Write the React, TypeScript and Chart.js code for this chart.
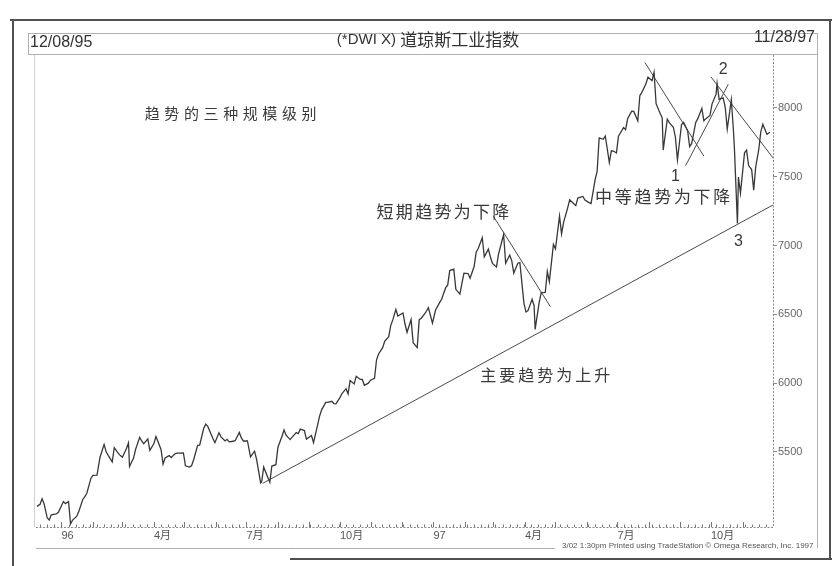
import React, { useEffect, useRef } from "react";
import { Chart, registerables } from "chart.js";

Chart.register(...registerables);

// ---------- data ----------
const axisStart = "95-12-07";
const axisEnd = "97-12-01";

const dates: string[] = [
  "95-12-08","95-12-11","95-12-13","95-12-15","95-12-18","95-12-20","95-12-22","95-12-27","95-12-29",
  "96-01-03","96-01-05","96-01-08","96-01-10","96-01-12","96-01-16","96-01-18","96-01-22","96-01-24","96-01-26","96-01-30",
  "96-02-01","96-02-05","96-02-08","96-02-12","96-02-14","96-02-16","96-02-20","96-02-22","96-02-26","96-02-28",
  "96-03-01","96-03-05","96-03-07","96-03-08","96-03-12","96-03-14","96-03-18","96-03-20","96-03-22","96-03-26","96-03-28",
  "96-04-01","96-04-03","96-04-08","96-04-10","96-04-12","96-04-16","96-04-18","96-04-22","96-04-24","96-04-26","96-04-30",
  "96-05-02","96-05-06","96-05-08","96-05-10","96-05-14","96-05-16","96-05-20","96-05-22","96-05-24","96-05-29","96-05-31",
  "96-06-04","96-06-06","96-06-10","96-06-12","96-06-14","96-06-18","96-06-20","96-06-24","96-06-26","96-06-28",
  "96-07-02","96-07-05","96-07-09","96-07-11","96-07-15","96-07-16","96-07-18","96-07-22","96-07-24","96-07-26","96-07-30",
  "96-08-01","96-08-05","96-08-07","96-08-09","96-08-13","96-08-15","96-08-19","96-08-21","96-08-23","96-08-27","96-08-29",
  "96-09-03","96-09-05","96-09-09","96-09-11","96-09-13","96-09-17","96-09-19","96-09-23","96-09-25","96-09-27",
  "96-10-01","96-10-03","96-10-07","96-10-09","96-10-11","96-10-15","96-10-17","96-10-21","96-10-23","96-10-25","96-10-29","96-10-31",
  "96-11-04","96-11-06","96-11-08","96-11-12","96-11-14","96-11-18","96-11-20","96-11-22","96-11-25","96-11-27",
  "96-12-02","96-12-04","96-12-06","96-12-10","96-12-12","96-12-16","96-12-18","96-12-20","96-12-24","96-12-27","96-12-31",
  "97-01-03","97-01-07","97-01-09","97-01-13","97-01-15","97-01-17","97-01-21","97-01-23","97-01-27","97-01-29","97-01-31",
  "97-02-04","97-02-06","97-02-10","97-02-12","97-02-14","97-02-18","97-02-20","97-02-24","97-02-26","97-02-28",
  "97-03-04","97-03-06","97-03-11","97-03-13","97-03-17","97-03-19","97-03-21","97-03-25","97-03-27","97-03-31",
  "97-04-02","97-04-04","97-04-08","97-04-10","97-04-11","97-04-15","97-04-17","97-04-21","97-04-23","97-04-25","97-04-29",
  "97-05-01","97-05-05","97-05-07","97-05-09","97-05-13","97-05-15","97-05-19","97-05-21","97-05-23","97-05-28","97-05-30",
  "97-06-03","97-06-05","97-06-09","97-06-11","97-06-13","97-06-17","97-06-19","97-06-23","97-06-25","97-06-27","97-06-30",
  "97-07-02","97-07-07","97-07-09","97-07-11","97-07-15","97-07-17","97-07-21","97-07-23","97-07-25","97-07-29","97-07-31",
  "97-08-04","97-08-06","97-08-08","97-08-12","97-08-14","97-08-15","97-08-19","97-08-21","97-08-25","97-08-27","97-08-29",
  "97-09-02","97-09-04","97-09-08","97-09-10","97-09-12","97-09-16","97-09-18","97-09-22","97-09-24","97-09-26","97-09-30",
  "97-10-02","97-10-06","97-10-07","97-10-09","97-10-13","97-10-15","97-10-17","97-10-21","97-10-23","97-10-24","97-10-27","97-10-28","97-10-30",
  "97-11-03","97-11-05","97-11-07","97-11-10","97-11-12","97-11-14","97-11-17","97-11-19","97-11-21","97-11-25","97-11-28"
];

// closes (right-hand price axis)
const closes: number[] = [
  5105,5120,5160,5122,5022,5005,5043,5050,5062,
  5140,5125,5140,4978,5005,5032,5065,5155,5175,5200,5308,
  5330,5332,5462,5555,5502,5476,5428,5532,5490,5474,
  5462,5525,5566,5395,5456,5520,5606,5580,5560,5595,5512,
  5562,5612,5518,5412,5456,5474,5460,5488,5492,5492,5494,
  5400,5390,5400,5442,5548,5550,5672,5702,5686,5598,5568,
  5640,5610,5580,5592,5574,5578,5584,5642,5602,5580,
  5580,5464,5506,5446,5275,5284,5390,5316,5280,5398,5408,
  5535,5615,5660,5622,5590,5608,5642,5634,5666,5656,5594,
  5620,5568,5695,5762,5806,5860,5860,5868,5852,5850,
  5895,5925,5960,5922,6020,5995,6050,6027,6027,5985,6000,6022,
  6035,6170,6212,6258,6305,6338,6420,6460,6535,6488,
  6510,6430,6370,6462,6294,6258,6462,6472,6510,6548,6436,
  6530,6585,6610,6694,6712,6818,6828,6682,6647,6726,6800,
  6797,6763,6848,6951,6978,7057,6918,6974,6917,6870,
  6845,6938,7080,6872,6930,6891,6800,6872,6876,6580,
  6517,6527,6609,6563,6391,6587,6658,6660,6812,6738,7008,
  6976,7214,7085,7169,7274,7333,7304,7290,7345,7357,7331,
  7312,7305,7478,7540,7782,7772,7796,7604,7689,7687,7673,
  7795,7858,7842,7921,7976,7975,7906,8089,8113,8175,8223,
  8198,8259,8031,7960,7928,7694,7918,7893,7860,7787,7622,
  7879,7895,7835,7719,7742,7895,7922,7996,7906,7922,7945,
  8028,8100,8178,8062,8073,8005,7847,8060,7847,7715,7161,7498,7381,
  7674,7693,7581,7552,7402,7572,7698,7826,7881,7809,7823
];

const yTickValues = [5500, 6000, 6500, 7000, 7500, 8000];
const yMin = 4955;
const yMax = 8421;

const quarterTickDates = ["96-01-01","96-04-01","96-07-01","96-10-01","97-01-01","97-04-01","97-07-01","97-10-01"];
const quarterTickLabels = ["96","4月","7月","10月","97","4月","7月","10月"];

// trend lines (date, value)
const trendMajorDates = ["96-07-17","97-12-01"];
const trendMajorValues = [5272, 7295];
const trendShortDates = ["97-03-01","97-04-26"];
const trendShortValues = [7212, 6556];
const trendMid1Dates = ["97-07-28","97-09-24"];
const trendMid1Values = [8330, 7650];
const trendUpDates = ["97-09-06","97-10-18"];
const trendUpValues = [7580, 8172];
const trendMid2Dates = ["97-10-01","97-12-01"];
const trendMid2Values = [8225, 7637];

// annotations
const noteTexts = ["趋势的三种规模级别","短期趋势为下降","中等趋势为下降","主要趋势为上升","1","2","3"];
const noteDates = ["96-03-23","96-11-06","97-06-09","97-02-16","97-08-27","97-10-13","97-10-28"];
const noteValues = [7964, 7244, 7353, 6060, 7499, 8276, 7026];

const titleLeft = "12/08/95";
const titleRight = "11/28/97";
const titleCode = "(*DWI X) ";
const titleName = "道琼斯工业指数";
const footer = "3/02 1:30pm Printed using TradeStation © Omega Research, Inc. 1997";

// ---------- helpers ----------
const dayOf = (s: string) =>
  (Date.UTC(1900 + Number(s.slice(0, 2)), Number(s.slice(3, 5)) - 1, Number(s.slice(6, 8))) -
    Date.UTC(1995, 11, 8)) / 86400000;

const W = 834;
const H = 566;
const PLOT_L = 36;
const PLOT_T = 50;
const PLOT_R = 773;
const PLOT_B = 527;

const SANS = "'Liberation Sans', Arial, 'Noto Sans CJK SC', sans-serif";
const CJK = "'Noto Sans CJK SC', sans-serif";

// note styles (index aligned with notes)
const noteSize = [15, 17, 17, 16, 16, 16, 16];
const noteAdvance = [19.6, 19.3, 19.7, 19.0, 0, 0, 0];

function line(ctx: CanvasRenderingContext2D, x1: number, y1: number, x2: number, y2: number) {
  ctx.beginPath();
  ctx.moveTo(x1, y1);
  ctx.lineTo(x2, y2);
  ctx.stroke();
}

const framePlugin = {
  id: "frame",
  beforeDraw(chart: any) {
    const ctx: CanvasRenderingContext2D = chart.ctx;
    ctx.save();
    ctx.fillStyle = "#ffffff";
    ctx.fillRect(0, 0, W, H);
    // outer frame
    ctx.strokeStyle = "#505050";
    ctx.lineWidth = 2;
    line(ctx, 10, 20, 832, 20);
    line(ctx, 13, 20, 13, 566);
    line(ctx, 830, 20, 830, 560);
    line(ctx, 290, 559, 832, 559);
    // inner panel
    ctx.strokeStyle = "#b0b0b0";
    ctx.lineWidth = 1;
    line(ctx, 28, 33.5, 817, 33.5);
    line(ctx, 28, 54.5, 817, 54.5);
    line(ctx, 28.5, 33, 28.5, 55);
    line(ctx, 817.5, 33, 817.5, 548);
    line(ctx, 36, 548.5, 555, 548.5);
    ctx.strokeStyle = "#d0d0d0";
    line(ctx, 34.5, 55, 34.5, PLOT_B);
    // axes (dotted)
    ctx.strokeStyle = "#8a8a8a";
    ctx.setLineDash([2, 1.5]);
    line(ctx, PLOT_R + 0.5, 55, PLOT_R + 0.5, PLOT_B);
    line(ctx, PLOT_L, PLOT_B + 0.5, PLOT_R, PLOT_B + 0.5);
    ctx.setLineDash([]);
    // x tick marks: weekly minor, monthly major
    const xs = chart.scales.x;
    ctx.strokeStyle = "#777";
    for (let d = dayOf("95-12-11"); d <= dayOf("97-11-28"); d += 7) {
      const px = Math.round(xs.getPixelForValue(d)) + 0.5;
      line(ctx, px, PLOT_B, px, PLOT_B - 2.5);
    }
    for (let y = 1996; y <= 1997; y++) {
      for (let m = 1; m <= 12; m++) {
        if (y === 1997 && m === 12) continue;
        const s = `${String(y).slice(2)}-${String(m).padStart(2, "0")}-01`;
        const px = Math.round(xs.getPixelForValue(dayOf(s))) + 0.5;
        line(ctx, px, PLOT_B, px, PLOT_B - 5);
      }
    }
    ctx.restore();
  },
  afterDraw(chart: any) {
    const ctx: CanvasRenderingContext2D = chart.ctx;
    const xs = chart.scales.x;
    const ys = chart.scales.y;
    ctx.save();
    // header texts
    ctx.fillStyle = "#333";
    ctx.textBaseline = "middle";
    ctx.font = `16px ${SANS}`;
    ctx.textAlign = "left";
    ctx.fillText(titleLeft, 30, 43);
    ctx.textAlign = "right";
    ctx.fillText(titleRight, 815, 38);
    ctx.textAlign = "left";
    ctx.font = `15px ${SANS}`;
    const w1 = ctx.measureText(titleCode).width;
    ctx.font = `17px ${CJK}`;
    const w2 = ctx.measureText(titleName).width;
    const tx = 428 - (w1 + w2) / 2;
    ctx.font = `15px ${SANS}`;
    ctx.fillText(titleCode, tx, 40);
    ctx.font = `17px ${CJK}`;
    ctx.fillText(titleName, tx + w1, 40);
    // footer
    ctx.font = `8px ${SANS}`;
    ctx.fillStyle = "#555";
    ctx.fillText(footer, 562, 546, 262);
    // annotations
    ctx.fillStyle = "#3a3a3a";
    for (let i = 0; i < noteTexts.length; i++) {
      const px = xs.getPixelForValue(dayOf(noteDates[i]));
      const py = ys.getPixelForValue(noteValues[i]);
      const t = noteTexts[i];
      if (noteAdvance[i] > 0) {
        ctx.font = `${noteSize[i]}px ${CJK}`;
        ctx.textAlign = "left";
        const chars = Array.from(t);
        chars.forEach((ch, k) => ctx.fillText(ch, px + k * noteAdvance[i], py));
      } else {
        ctx.font = `${noteSize[i]}px ${SANS}`;
        ctx.textAlign = "center";
        ctx.fillText(t, px, py);
      }
    }
    ctx.restore();
  },
};

function trendSet(ds: string[], vs: number[]) {
  return {
    data: ds.map((d, i) => ({ x: dayOf(d), y: vs[i] })),
    borderColor: "#4a4a4a",
    borderWidth: 1,
    pointRadius: 0,
    tension: 0,
    fill: false,
  };
}

export default function App() {
  const ref = useRef<HTMLCanvasElement | null>(null);
  useEffect(() => {
    if (!ref.current) return;
    const chart = new Chart(ref.current, {
      type: "line",
      data: {
        datasets: [
          {
            data: dates.map((d, i) => ({ x: dayOf(d), y: closes[i] })),
            borderColor: "#383838",
            borderWidth: 1.3,
            pointRadius: 0,
            tension: 0,
            fill: false,
          },
          trendSet(trendMajorDates, trendMajorValues),
          trendSet(trendShortDates, trendShortValues),
          trendSet(trendMid1Dates, trendMid1Values),
          trendSet(trendUpDates, trendUpValues),
          trendSet(trendMid2Dates, trendMid2Values),
        ] as any,
      },
      options: {
        animation: false,
        responsive: false,
        maintainAspectRatio: false,
        events: [],
        layout: { padding: { left: PLOT_L, top: PLOT_T, right: 0, bottom: 0 } },
        plugins: { legend: { display: false }, tooltip: { enabled: false }, title: { display: false } },
        scales: {
          x: {
            type: "linear",
            min: dayOf(axisStart),
            max: dayOf(axisEnd),
            afterBuildTicks: (s: any) => {
              s.ticks = quarterTickDates.map((d) => ({ value: dayOf(d) }));
            },
            afterFit: (s: any) => {
              s.height = H - PLOT_B;
            },
            ticks: {
              autoSkip: false,
              maxRotation: 0,
              minRotation: 0,
              align: "start",
              padding: 2,
              color: "#555",
              font: { family: SANS, size: 11 },
              callback: (_v: any, i: number) => quarterTickLabels[i],
            },
            grid: { display: false, drawTicks: false },
            border: { display: false },
          },
          y: {
            type: "linear",
            position: "right",
            min: yMin,
            max: yMax,
            afterBuildTicks: (s: any) => {
              s.ticks = yTickValues.map((v) => ({ value: v }));
            },
            afterFit: (s: any) => {
              s.width = W - PLOT_R;
            },
            ticks: {
              padding: 1,
              color: "#666",
              font: { family: SANS, size: 11 },
              callback: (v: any) => String(v),
            },
            grid: { drawOnChartArea: false, drawTicks: true, tickLength: 4, color: "#888" },
            border: { display: false },
          },
        },
      } as any,
      plugins: [framePlugin],
    });
    return () => chart.destroy();
  }, []);
  return (
    <div style={{ position: "fixed", left: 0, top: 0, width: W, height: H, background: "#fff" }}>
      <canvas ref={ref} width={W} height={H} style={{ width: W, height: H, display: "block" }} />
    </div>
  );
}
